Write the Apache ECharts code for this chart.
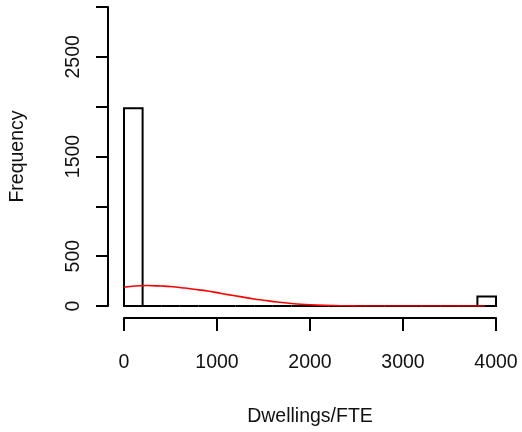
<!DOCTYPE html>
<html>
<head>
<meta charset="utf-8">
<script src="https://cdn.jsdelivr.net/npm/echarts@6/dist/echarts.min.js"></script>
<style>
html,body{margin:0;padding:0;background:#fff;}
#c{width:522px;height:432px;}
</style>
</head>
<body>
<div id="c"></div>
<script>
// Histogram bins (Dwellings/FTE)
const binStarts = [0,200,400,600,800,1000,1200,1400,1600,1800,2000,2200,2400,2600,2800,3000,3200,3400,3600,3800];
const binEnds   = [200,400,600,800,1000,1200,1400,1600,1800,2000,2200,2400,2600,2800,3000,3200,3400,3600,3800,4000];
const counts    = [1985,0,0,0,0,0,0,0,0,0,0,0,0,0,0,0,0,0,0,95];

// Red density curve
const curveX = [0,120,250,400,500,650,750,900,1000,1100,1250,1400,1500,1650,1750,1900,2000,2150,2250,2400,2500,2750,3000,3500,3880];
const curveY = [188,200,205,200,195,180,168,150,134,117,94,70,58,40,30,18,12,6,4,2,1,0.5,0,0,0];

// Axis ticks and labels
const xTicks = [0,1000,2000,3000,4000];
const xTickLabels = ['0','1000','2000','3000','4000'];
const yTickValues = [0,500,1000,1500,2000,2500,3000];
const yTickLabels = ['0','500','','1500','','2500',''];

const xTitle = 'Dwellings/FTE';
const yTitle = 'Frequency';

const font = "'Liberation Sans', Arial, Helvetica, sans-serif";
const fs = 19.5;
const txt = '#111';

const histData = binStarts.map((s, i) => [s, binEnds[i], counts[i]]);
const curveData = curveX.map((x, i) => [x, curveY[i]]);

const chart = echarts.init(document.getElementById('c'), null, {renderer: 'canvas'});
chart.setOption({
  animation: false,
  backgroundColor: '#ffffff',
  grid: {left: 124, right: 26, top: 7, bottom: 126, containLabel: false},
  xAxis: {
    type: 'value',
    min: xTicks[0], max: xTicks[xTicks.length - 1], interval: 1000,
    offset: 12,
    name: xTitle,
    nameLocation: 'middle',
    nameGap: 89,
    nameTextStyle: {fontFamily: font, fontSize: fs, color: txt},
    axisLine: {show: true, onZero: false, lineStyle: {color: '#000', width: 2}},
    axisTick: {show: true, length: 13, lineStyle: {color: '#000', width: 2}},
    axisLabel: {
      margin: 35, fontFamily: font, fontSize: fs, color: txt,
      formatter: function (v) {
        const i = xTicks.indexOf(v);
        return i >= 0 ? xTickLabels[i] : '';
      }
    },
    splitLine: {show: false}
  },
  yAxis: {
    type: 'value',
    min: yTickValues[0], max: yTickValues[yTickValues.length - 1], interval: 500,
    offset: 16,
    name: yTitle,
    nameLocation: 'middle',
    nameGap: 80,
    nameRotate: 90,
    nameTextStyle: {fontFamily: font, fontSize: fs, color: txt},
    axisLine: {show: true, onZero: false, lineStyle: {color: '#000', width: 2}},
    axisTick: {show: true, length: 12, lineStyle: {color: '#000', width: 2}},
    axisLabel: {
      rotate: 90, margin: 24, fontFamily: font, fontSize: fs, color: txt,
      formatter: function (v) {
        const i = yTickValues.indexOf(v);
        return i >= 0 ? yTickLabels[i] : '';
      }
    },
    splitLine: {show: false}
  },
  series: [
    {
      type: 'custom',
      data: histData,
      encode: {x: [0, 1], y: 2},
      clip: false,
      z: 2,
      renderItem: function (params, api) {
        const x0 = api.value(0), x1 = api.value(1), c = api.value(2);
        const p0 = api.coord([x0, 0]);
        const p1 = api.coord([x1, c]);
        return {
          type: 'rect',
          shape: {x: p0[0], y: p1[1], width: p1[0] - p0[0], height: p0[1] - p1[1]},
          style: {fill: 'rgba(0,0,0,0)', stroke: '#000', lineWidth: 2}
        };
      }
    },
    {
      type: 'line',
      data: curveData,
      smooth: 0.4,
      symbol: 'none',
      z: 3,
      lineStyle: {color: '#ff0000', width: 1.6}
    }
  ]
});
</script>
</body>
</html>
